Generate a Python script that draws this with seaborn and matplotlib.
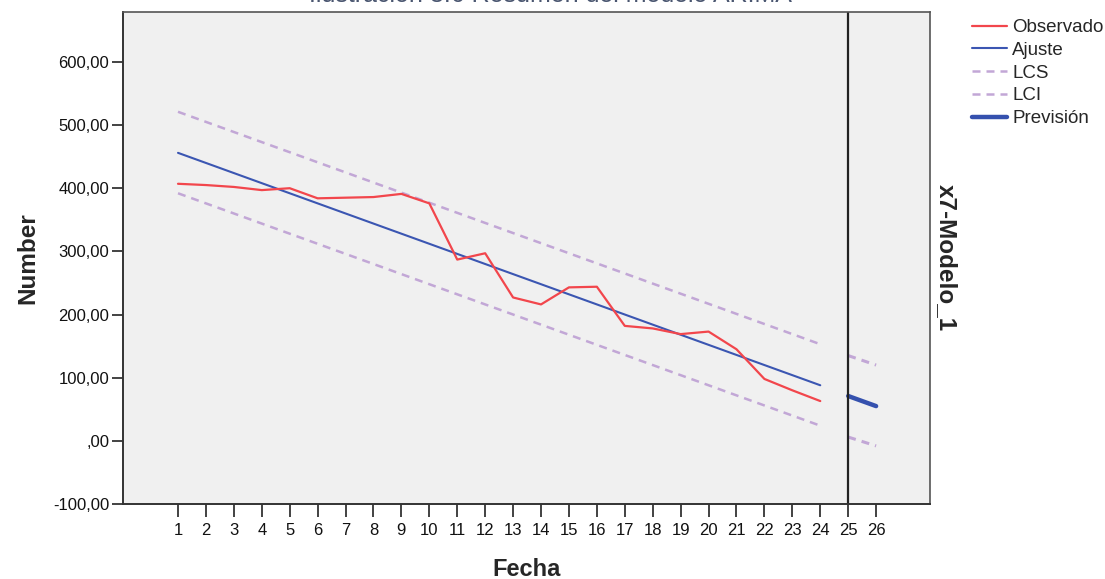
import matplotlib
matplotlib.use("Agg")
import matplotlib.pyplot as plt
import seaborn as sns
import pandas as pd
from matplotlib.lines import Line2D
from matplotlib.ticker import FuncFormatter

# ---- data ----
fecha_obs = list(range(1, 25))
observado = [407, 405, 402, 397, 400, 384, 385, 386, 391, 376,
             287, 297, 227, 216, 243, 244, 182, 178, 169, 173,
             145, 98, 80, 63]
ajuste = [456, 440, 424, 408, 392, 376, 360, 344, 328, 312,
          296, 280, 264, 248, 232, 216, 200, 184, 168, 152,
          136, 120, 104, 88]
lcs = [521, 505, 489, 473, 457, 441, 425, 409, 393, 377,
       361, 345, 329, 313, 297, 281, 265, 249, 233, 217,
       201, 185, 169, 153]
lci = [392, 376, 360, 344, 328, 312, 296, 280, 264, 248,
       232, 216, 200, 184, 168, 152, 136, 120, 104, 88,
       72, 56, 40, 24]
fecha_prev = [25, 26]
prevision = [71, 55]
lcs_prev = [135, 120]
lci_prev = [6, -8]
x_ticks = list(range(1, 27))
y_ticks = [-100, 0, 100, 200, 300, 400, 500, 600]
title_text = "Ilustración 3.6 Resumen del modelo ARIMA"
right_label = "x7-Modelo_1"

RED = "#f2464c"
BLUE = "#3b56b2"
LAV = "#c2a7d6"
PBLUE = "#3551ae"

sns.set_style("white")
plt.rcParams["font.family"] = ["Liberation Sans", "DejaVu Sans"]

fig = plt.figure(figsize=(11.05, 5.79), dpi=100)
ax = fig.add_axes([123 / 1105, 75 / 579, (930 - 123) / 1105, (504 - 12) / 579])
ax.set_facecolor("#f0f0f0")

df = pd.DataFrame({"Fecha": fecha_obs, "Observado": observado, "Ajuste": ajuste,
                   "LCS": lcs, "LCI": lci})
dfp = pd.DataFrame({"Fecha": fecha_prev, "Prev": prevision, "LCS": lcs_prev, "LCI": lci_prev})

dash = (3.2, 2.4)
sns.lineplot(data=df, x="Fecha", y="LCS", ax=ax, color=LAV, lw=1.8)
ax.lines[-1].set_dashes(dash)
sns.lineplot(data=df, x="Fecha", y="LCI", ax=ax, color=LAV, lw=1.8)
ax.lines[-1].set_dashes(dash)
sns.lineplot(data=df, x="Fecha", y="Ajuste", ax=ax, color=BLUE, lw=1.5)
sns.lineplot(data=df, x="Fecha", y="Observado", ax=ax, color=RED, lw=1.6)
sns.lineplot(data=dfp, x="Fecha", y="LCS", ax=ax, color=LAV, lw=2.2)
ax.lines[-1].set_dashes((2.6, 2.0))
sns.lineplot(data=dfp, x="Fecha", y="LCI", ax=ax, color=LAV, lw=2.2)
ax.lines[-1].set_dashes((2.6, 2.0))
sns.lineplot(data=dfp, x="Fecha", y="Prev", ax=ax, color=PBLUE, lw=3.2)

ax.axvline(25, color="#222222", lw=1.6)

ax.set_xlim(-0.97, 27.93)
ax.set_ylim(-100, 679)
ax.set_xticks(x_ticks)
ax.set_yticks(y_ticks)

def fmt(v, pos):
    if v == 0:
        return ",00"
    return f"{int(v)},00"

ax.yaxis.set_major_formatter(FuncFormatter(fmt))
ax.tick_params(axis="both", which="major", labelsize=12, direction="out",
               length=8, width=1.2, color="#222222", labelcolor="#111111", pad=2,
               left=True, bottom=True)
ax.tick_params(axis="x", length=9, pad=5)

for s in ["left", "bottom"]:
    ax.spines[s].set_color("#333333")
    ax.spines[s].set_linewidth(1.4)
for s in ["top", "right"]:
    ax.spines[s].set_color("#555555")
    ax.spines[s].set_linewidth(1.2)

ax.set_xlabel("Fecha", fontsize=17, fontweight="bold", labelpad=14)
ax.set_ylabel("Number", fontsize=17.5, fontweight="bold", labelpad=10)

ax.text(1.006, 0.5, right_label, transform=ax.transAxes, rotation=270,
        ha="left", va="center", fontsize=17.5, fontweight="bold")

fig.text(0.498, 1 - 2.0 / 579, title_text, ha="center", va="baseline",
         fontsize=18, color="#4a5670")

handles = [
    Line2D([], [], color=RED, lw=1.6),
    Line2D([], [], color=BLUE, lw=1.5),
    Line2D([], [], color=LAV, lw=1.8, dashes=dash),
    Line2D([], [], color=LAV, lw=1.8, dashes=dash),
    Line2D([], [], color=PBLUE, lw=3.2),
]
labels = ["Observado", "Ajuste", "LCS", "LCI", "Previsión"]
fig.legend(handles, labels, loc="upper left", bbox_to_anchor=(972 / 1105, 1 - 19 / 579),
           frameon=False, fontsize=13.5, handlelength=1.85, handletextpad=0.3,
           labelspacing=0.3, borderpad=0, borderaxespad=0)

fig.savefig("out.png", dpi=100)
